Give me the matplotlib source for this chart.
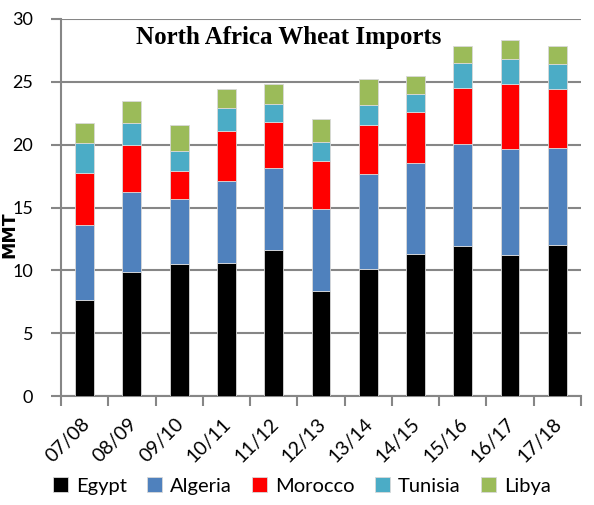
import matplotlib
matplotlib.use("Agg")
import matplotlib.pyplot as plt
import matplotlib.transforms as mtransforms
import numpy as np

years = ["07/08", "08/09", "09/10", "10/11", "11/12", "12/13", "13/14", "14/15", "15/16", "16/17", "17/18"]
egypt   = [7.64, 9.89, 10.47, 10.60, 11.64, 8.38, 10.10, 11.30, 11.91, 11.22, 11.99]
algeria = [5.94, 6.34, 5.20, 6.50, 6.47, 6.47, 7.54, 7.24, 8.14, 8.43, 7.71]
morocco = [4.18, 3.77, 2.26, 3.98, 3.69, 3.85, 3.89, 4.08, 4.48, 5.20, 4.75]
tunisia = [2.34, 1.75, 1.54, 1.86, 1.45, 1.50, 1.62, 1.43, 1.97, 1.98, 1.93]
libya   = [1.60, 1.72, 2.13, 1.48, 1.60, 1.84, 2.05, 1.38, 1.34, 1.49, 1.44]

series = [("Egypt", egypt, "#000000"), ("Algeria", algeria, "#4F81BD"),
          ("Morocco", morocco, "#FF0000"), ("Tunisia", tunisia, "#4BACC6"),
          ("Libya", libya, "#9BBB59")]

plt.rcParams['font.family'] = ['Lato', 'DejaVu Sans']

fig = plt.figure(figsize=(5.94, 5.05), dpi=100)
ax = fig.add_axes([0.1027, 0.2158, 0.8753, 0.7466])

x = np.arange(len(years))
bottom = np.zeros(len(years))
for name, vals, col in series:
    ax.bar(x, vals, 0.4, bottom=bottom, color=col, edgecolor="#D9D9D9", linewidth=0.6,
           label=name, zorder=3)
    bottom += np.array(vals)

ax.set_xlim(-0.5, len(years) - 0.5)
ax.set_ylim(0, 30)
ax.set_yticks(np.arange(0, 31, 5))
ax.yaxis.grid(True, color="#868686", linewidth=1.5, zorder=0)
ax.set_axisbelow(True)
for s in ["top", "right"]:
    ax.spines[s].set_visible(False)
for s in ["left", "bottom"]:
    ax.spines[s].set_color("#868686")
    ax.spines[s].set_linewidth(1.5)

ax.set_xticks(np.arange(-0.5, len(years), 1))
ax.set_xticklabels([])
ax.set_xticks(x, minor=True)
ax.set_xticklabels(years, minor=True, rotation=45, ha="right", va="top",
                   rotation_mode="anchor", fontsize=14)
ax.tick_params(axis="x", which="major", length=7, width=1.5, color="#868686")
ax.tick_params(axis="x", which="minor", length=0, pad=14)
ax.tick_params(axis="y", length=7, width=1.5, color="#868686", labelsize=13, pad=13)
offset = mtransforms.ScaledTranslation(-4 / 100, 0, fig.dpi_scale_trans)
for lbl in ax.get_xticklabels(minor=True):
    lbl.set_transform(lbl.get_transform() + offset)

fig.text(9 / 594, 1 - 235 / 505, "MMT", rotation=90, ha="center", va="center",
         fontsize=12.5, fontweight="bold", family=["DejaVu Sans"])
ax.text(0.438, 0.95, "North Africa Wheat Imports", transform=ax.transAxes,
        ha="center", va="center", fontsize=18, fontweight="bold",
        family=["Liberation Serif"])

fig.legend(loc="center", bbox_to_anchor=(0.508, 0.038), ncol=5, frameon=False,
           fontsize=14.5, handlelength=0.75, handleheight=0.75, handletextpad=0.4,
           columnspacing=1.0)

fig.savefig("out.png", dpi=100)
